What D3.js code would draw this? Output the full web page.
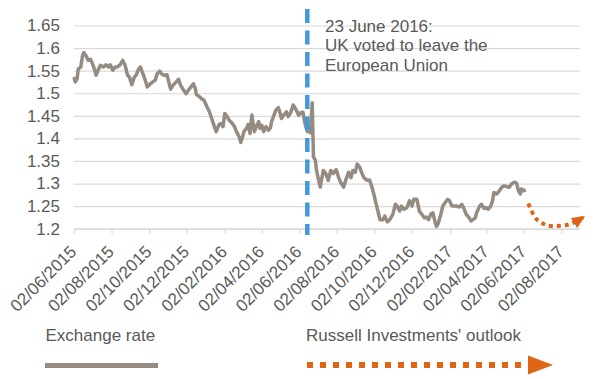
<!DOCTYPE html>
<html>
<head>
<meta charset="utf-8">
<script src="https://cdn.jsdelivr.net/npm/d3@7"></script>
<style>
  body { margin: 0; background: #fff; }
  svg { display: block; font-family: 'Liberation Sans', Arial, sans-serif; }
</style>
</head>
<body>
<script>
// GBP/USD, days counted from the first observation
const startDate = '2015-06-02';
const rateDays = [0,2,5,7,11,14,16,20,23,27,30,33,36,40,43,48,52,56,59,63,67,70,75,79,83,87,90,94,98,101,
  105,108,112,115,119,124,128,132,135,139,142,146,151,154,157,161,166,170,173,178,182,186,190,194,197,199,
  204,207,211,216,220,224,228,231,235,238,242,245,249,252,256,260,264,268,271,274,276,280,283,286,289,293,
  296,300,302,305,308,312,316,319,321,325,328,332,335,337,340,345,348,352,356,361,365,368,372,375,379,382,
  384,387,389,392,394,397,400,402,405,409,413,417,421,426,430,433,438,442,446,450,453,457,460,464,467,471,
  476,480,484,487,491,495,497,502,505,509,513,518,522,525,529,532,536,541,545,549,552,557,561,565,569,572,
  576,580,583,587,589,592,596,599,603,607,610,614,617,622,626,630,634,637,641,645,648,652,654,659,662,666,
  669,673,677,680,682,687,691,695,699,703,707,711,715,719,722,725,727,731,734];
const rateValues = [1.536,1.525,1.532,1.554,1.558,1.584,1.590,1.582,1.573,1.575,1.565,1.554,1.540,1.554,1.562,
  1.558,1.563,1.558,1.563,1.551,1.558,1.558,1.563,1.573,1.562,1.540,1.536,1.519,1.536,1.540,
  1.554,1.558,1.543,1.532,1.514,1.521,1.525,1.529,1.543,1.549,1.543,1.540,1.541,1.525,1.509,1.518,1.525,
  1.531,1.518,1.507,1.499,1.507,1.514,1.521,1.510,1.497,
  1.492,1.488,1.485,1.470,1.459,1.443,1.426,1.415,1.429,1.433,1.426,1.455,1.448,1.440,1.435,1.428,1.415,
  1.404,1.391,1.404,1.415,1.422,1.431,1.411,1.452,1.415,
  1.426,1.437,1.422,1.429,1.415,1.426,1.418,1.423,1.437,1.452,1.463,1.468,1.455,1.444,1.450,1.459,1.448,
  1.457,1.474,1.463,1.451,1.457,1.458,1.434,1.415,1.419,
  1.412,1.479,1.359,1.352,1.329,1.310,1.292,1.307,1.329,1.322,1.307,1.329,1.322,1.331,1.313,1.303,1.292,
  1.310,1.325,1.313,1.329,1.325,1.343,1.337,1.325,1.313,
  1.307,1.308,1.292,1.277,1.254,1.232,1.220,1.220,1.228,1.215,1.220,1.232,1.254,1.250,1.239,1.250,1.243,
  1.247,1.262,1.250,1.265,1.265,1.239,1.232,1.224,1.226,
  1.220,1.233,1.235,1.213,1.205,1.213,1.232,1.250,1.258,1.265,1.262,1.250,1.250,1.250,1.248,1.254,1.243,
  1.232,1.226,1.217,1.220,1.224,1.235,1.250,1.254,1.245,
  1.247,1.243,1.250,1.262,1.280,1.277,1.284,1.292,1.295,1.293,1.292,1.299,1.303,1.301,1.284,1.277,1.288,
  1.284,1.286];

const outlookDates = ['2017-06-09','2017-06-20','2017-07-01','2017-07-13','2017-07-25','2017-08-08','2017-08-19','2017-09-09'];
const outlookValues = [1.256,1.225,1.213,1.206,1.206,1.2075,1.212,1.228];

const xTickLabels = ['02/06/2015','02/08/2015','02/10/2015','02/12/2015','02/02/2016','02/04/2016','02/06/2016',
  '02/08/2016','02/10/2016','02/12/2016','02/02/2017','02/04/2017','02/06/2017','02/08/2017'];
const yTickValues = [1.2,1.25,1.3,1.35,1.4,1.45,1.5,1.55,1.6,1.65];
const xEndDate = '2017-09-01';

const voteDate = '2016-06-15';
const voteNote = ['23 June 2016:', 'UK voted to leave the', 'European Union'];
const legendLabels = ['Exchange rate', "Russell Investments' outlook"];

const width = 600;
const height = 379;
const plot = { left: 74, right: 580, top: 25.5, bottom: 228.7 };
const textColor = '#595959';
const rateColor = '#958b81';
const outlookColor = '#df6516';
const voteColor = '#4499d9';

const parseIso = d3.timeParse('%Y-%m-%d');
const parseTick = d3.timeParse('%d/%m/%Y');
const start = parseIso(startDate);

const rate = rateDays.map((d, i) => ({ date: d3.timeDay.offset(start, d), value: rateValues[i] }));
const outlook = outlookDates.map((d, i) => ({ date: parseIso(d), value: outlookValues[i] }));

const xScale = d3.scaleTime()
  .domain([start, parseIso(xEndDate)])
  .range([plot.left, plot.right]);

const yScale = d3.scaleLinear()
  .domain([1.2, 1.65])
  .range([plot.bottom, plot.top]);

const svg = d3.select('body')
  .append('svg')
  .attr('width', width)
  .attr('height', height);

svg.append('defs')
  .append('marker')
  .attr('id', 'arrow')
  .attr('markerUnits', 'userSpaceOnUse')
  .attr('markerWidth', 14)
  .attr('markerHeight', 14)
  .attr('viewBox', '0 0 14 14')
  .attr('refX', 13)
  .attr('refY', 7)
  .attr('orient', 'auto')
  .append('path')
  .attr('d', 'M0,1 L13,7 L0,13 Z')
  .attr('fill', outlookColor);

// gridlines + y labels
const yAxis = svg.append('g')
  .attr('transform', `translate(${plot.left},0)`)
  .call(d3.axisLeft(yScale)
    .tickValues(yTickValues)
    .tickSize(-(plot.right - plot.left))
    .tickPadding(14)
    .tickFormat(d => String(d)));

yAxis.select('.domain').remove();
yAxis.selectAll('line')
  .attr('stroke', '#d9d9d9')
  .attr('stroke-width', 1.2);
yAxis.selectAll('text')
  .attr('fill', textColor)
  .style('font-size', '17px');

const xAxis = svg.append('g')
  .attr('transform', `translate(0,${plot.bottom})`)
  .call(d3.axisBottom(xScale)
    .tickValues(xTickLabels.map(parseTick))
    .tickSize(5)
    .tickSizeOuter(0)
    .tickFormat((d, i) => xTickLabels[i]));

xAxis.select('.domain')
  .attr('stroke', '#d9d9d9')
  .attr('stroke-width', 1.2);
xAxis.selectAll('line')
  .attr('stroke', '#d9d9d9')
  .attr('stroke-width', 1.2);
xAxis.selectAll('text')
  .attr('x', 0)
  .attr('y', 0)
  .attr('dy', 0)
  .attr('transform', 'translate(3,24) rotate(-45)')
  .attr('text-anchor', 'end')
  .attr('fill', textColor)
  .style('font-size', '17px');

const line = d3.line()
  .x(d => xScale(d.date))
  .y(d => yScale(d.value));

svg.append('path')
  .datum(rate)
  .attr('d', line)
  .attr('fill', 'none')
  .attr('stroke', rateColor)
  .attr('stroke-width', 3.5)
  .attr('stroke-linejoin', 'round');

svg.append('path')
  .datum(outlook)
  .attr('d', line.curve(d3.curveMonotoneX))
  .attr('fill', 'none')
  .attr('stroke', outlookColor)
  .attr('stroke-width', 4)
  .attr('stroke-dasharray', '4 4')
  .attr('marker-end', 'url(#arrow)');

svg.append('line')
  .attr('x1', xScale(parseIso(voteDate)))
  .attr('x2', xScale(parseIso(voteDate)))
  .attr('y1', 9)
  .attr('y2', 235)
  .attr('stroke', voteColor)
  .attr('stroke-width', 4.5)
  .attr('stroke-dasharray', '14 7.5');

svg.append('text')
  .attr('x', 325)
  .attr('y', 31.5)
  .attr('fill', textColor)
  .style('font-size', '17px')
  .selectAll('tspan')
  .data(voteNote)
  .enter()
  .append('tspan')
  .attr('x', 325)
  .attr('dy', (d, i) => i === 0 ? 0 : 19.8)
  .text(d => d);

// legend
svg.append('text')
  .attr('x', 45.5)
  .attr('y', 341)
  .attr('fill', textColor)
  .style('font-size', '17px')
  .text(legendLabels[0]);

svg.append('line')
  .attr('x1', 45)
  .attr('x2', 158)
  .attr('y1', 365.5)
  .attr('y2', 365.5)
  .attr('stroke', rateColor)
  .attr('stroke-width', 5);

svg.append('text')
  .attr('x', 306)
  .attr('y', 341)
  .attr('fill', textColor)
  .style('font-size', '17px')
  .text(legendLabels[1]);

svg.append('line')
  .attr('x1', 307)
  .attr('x2', 530)
  .attr('y1', 365)
  .attr('y2', 365)
  .attr('stroke', outlookColor)
  .attr('stroke-width', 6)
  .attr('stroke-dasharray', '6 7');

svg.append('path')
  .attr('d', 'M528,355.5 L553,365 L528,374.5 Z')
  .attr('fill', outlookColor);
</script>
</body>
</html>
